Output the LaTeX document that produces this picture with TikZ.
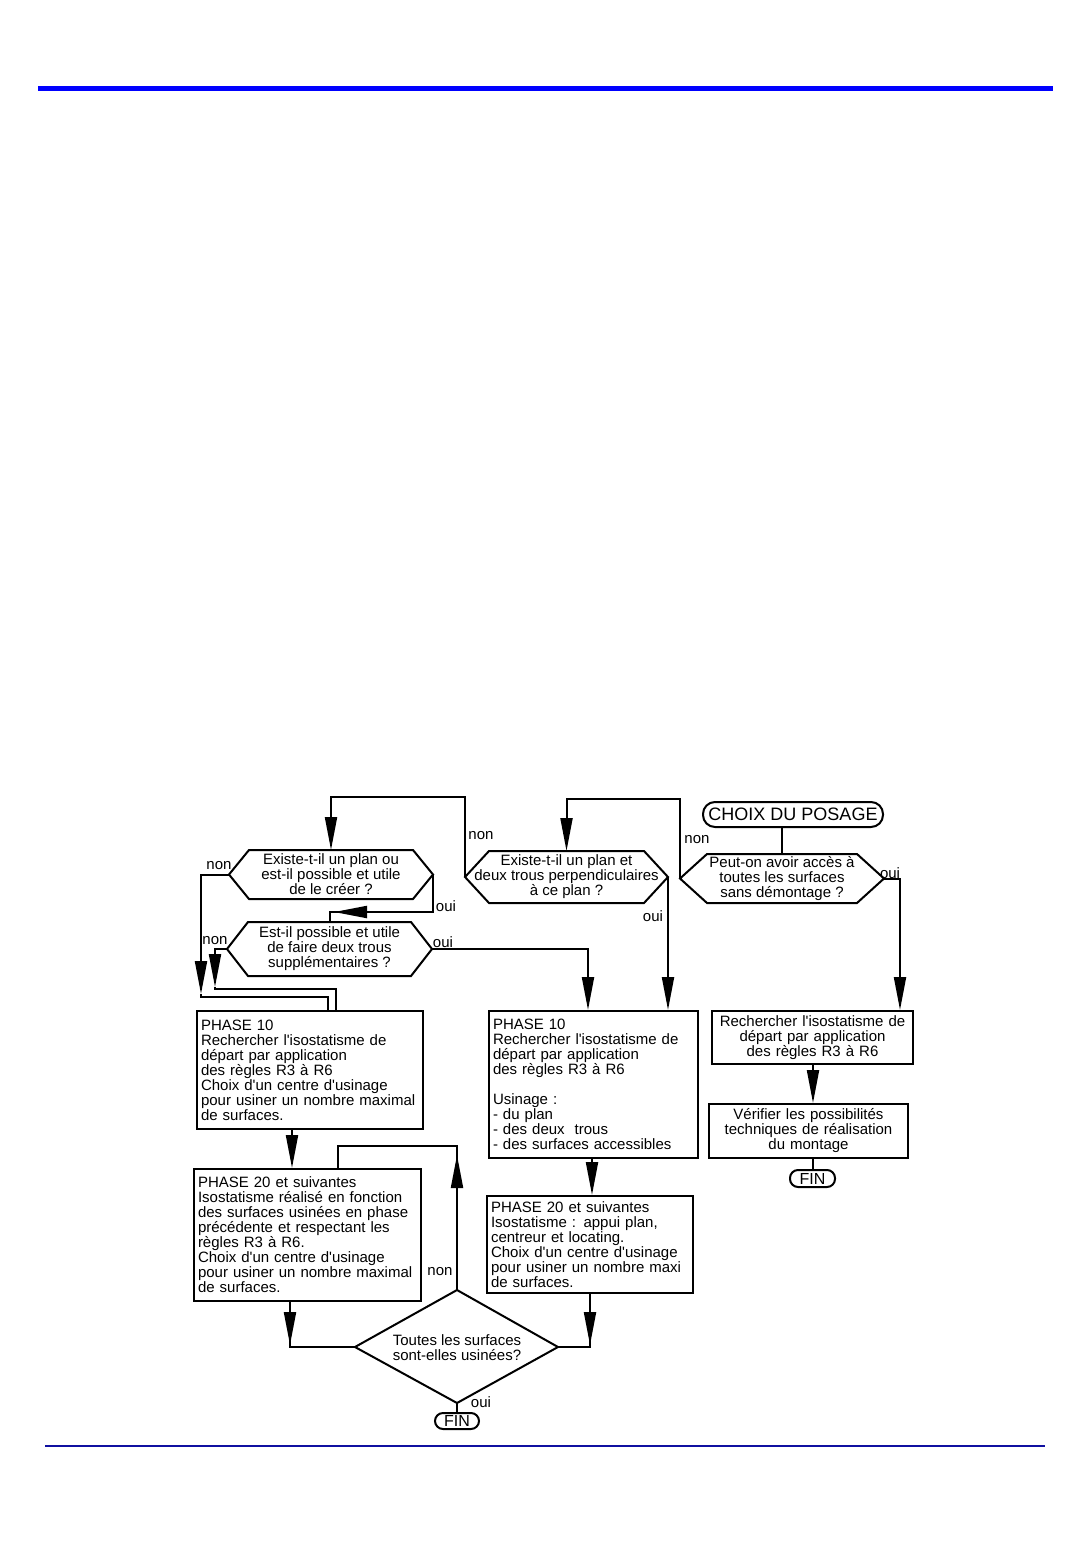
\documentclass[tikz,border=0pt]{standalone}
\usepackage{fontspec}
\setmainfont{Liberation Sans}
\usetikzlibrary{arrows.meta}
\definecolor{topblue}{RGB}{0,0,255}
\definecolor{botblue}{RGB}{16,16,160}
\newcommand{\q}{\textquotesingle}
\newcommand{\hexshape}[7]{%
  \coordinate (#1-w) at (#2,{(#4+#5)/2});
  \coordinate (#1-e) at (#3,{(#4+#5)/2});
  \coordinate (#1-n) at ({(#2+#3)/2},#4);
  \draw[line] (#1-w) -- ({#2+#6},#4) -- ({#3-#6},#4) -- (#1-e) -- ({#3-#6},#5) -- ({#2+#6},#5) -- cycle;
  \node[ctext] (#1) at ({(#2+#3)/2},{(#4+#5)/2}) {#7};
}
\begin{document}
\begin{tikzpicture}[x=1pt,y=-1pt,
  line/.style={line width=2pt, line join=miter},
  arr/.style={line, -{Triangle[length=33pt,width=12pt]}},
  txt/.style={font=\fontsize{15}{15}\selectfont},
  ctext/.style={txt, align=center, inner sep=0pt},
  lbl/.style={txt, inner sep=0pt},
  lbox/.style={draw, line width=2pt, txt, align=left, inner sep=4pt, anchor=north west},
  cbox/.style={draw, line width=2pt, txt, align=center, inner sep=4pt, anchor=north west},
  term/.style={draw, line width=2pt, inner sep=0pt}
]
\useasboundingbox (0,0) rectangle (1091,1544);
% page rules
\draw[topblue, line width=5pt] (38,89) -- (1053,89);
\draw[botblue, line width=2pt] (45,1446) -- (1045,1446);

% start terminal
\node[term, rounded corners=12pt, minimum width=180pt, minimum height=25pt,
      font=\fontsize{18}{18}\selectfont] (choix) at (793,814.5) {CHOIX DU POSAGE};

% decision hexagons
\hexshape{h1}{229}{433}{850}{899}{20}{Existe-t-il un plan ou\\est-il possible et utile\\de le créer ?}
\hexshape{h4}{227}{432}{922}{976}{21}{Est-il possible et utile\\de faire deux trous\\supplémentaires ?}
\hexshape{h2}{465}{668}{851}{903}{24}{Existe-t-il un plan et\\deux trous perpendiculaires\\à ce plan ?}
\hexshape{h3}{680}{884}{854}{903}{27}{Peut-on avoir accès à\\toutes les surfaces\\sans démontage ?}

% boxes
\node[lbox, text width=218pt, minimum height=118pt] (p10a) at (196,1010)
  {PHASE 10\\Rechercher l\q isostatisme de\\départ par application\\des règles R3 à R6\\Choix d\q un centre d\q usinage\\pour usiner un nombre maximal\\de surfaces.};
\node[lbox, text width=219pt, minimum height=132pt] (p20a) at (193,1168)
  {PHASE 20 et suivantes\\Isostatisme réalisé en fonction\\des surfaces usinées en phase\\précédente et respectant les\\règles R3 à R6.\\Choix d\q un centre d\q usinage\\pour usiner un nombre maximal\\de surfaces.};
\node[lbox, text width=201pt, minimum height=147pt] (p10b) at (488,1010)
  {PHASE 10\\Rechercher l\q isostatisme de\\départ par application\\des règles R3 à R6\\\mbox{}\\Usinage :\\- du plan\\- des deux~ trous\\- des surfaces accessibles};
\node[lbox, text width=198pt, minimum height=97pt] (p20b) at (486,1195)
  {PHASE 20 et suivantes\\Isostatisme : appui plan,\\centreur et locating.\\Choix d\q un centre d\q usinage\\pour usiner un nombre maxi\\de surfaces.};
\node[cbox, text width=193pt, minimum height=53pt] (b1) at (711,1010)
  {Rechercher l\q isostatisme de\\départ par application\\des règles R3 à R6};
\node[cbox, text width=191pt, minimum height=54pt] (b2) at (708,1103)
  {Vérifier les possibilités\\techniques de réalisation\\du montage};
\node[term, rounded corners=8pt, minimum width=45pt, minimum height=17pt,
      font=\fontsize{16}{16}\selectfont] (fin2) at (812.5,1178.5) {FIN};

% final decision diamond
\coordinate (dN) at (457,1290);
\coordinate (dE) at (558,1347);
\coordinate (dS) at (457,1403);
\coordinate (dW) at (355,1347);
\draw[line] (dN) -- (dE) -- (dS) -- (dW) -- cycle;
\node[ctext] (dia) at (457,1348) {Toutes les surfaces\\sont-elles usinées?};
\node[term, rounded corners=8pt, minimum width=44pt, minimum height=16pt,
      font=\fontsize{16}{16}\selectfont] (fin1) at (457,1421) {FIN};

% connectors
\draw[line] (h3-n |- choix.south) -- (h3-n);
\draw[arr] (h3-w) -- ++(0,-80) -| (h2-n);
\draw[arr] (h2-w) -- ++(0,-80) -| (h1-n);
\draw[arr] (h2-e) -- (h2-e |- p10b.north);
\draw[arr] (h3-e) -| (900,0 |- b1.north);
\draw[line] (h1-e) |- (h4-n |- 0,912) -- (h4-n);
\draw[arr] (h1-e |- 0,912) -- (334,912);
\draw[arr] (h4-e) -| (588,0 |- p10b.north);
\draw[arr] (h1-w) -| (201,994);
\draw[line] (201,994) |- (328,997) -- (328,0 |- p10a.north);
\draw[arr] (h4-w) -| (215,987);
\draw[line] (215,987) |- (336,989) -- (336,0 |- p10a.north);
\draw[arr] (292,0 |- p10a.south) -- (292,0 |- p20a.north);
\draw[arr] (592,0 |- p10b.south) -- (592,0 |- p20b.north);
\draw[arr] (813,0 |- b1.south) -- (813,0 |- b2.north);
\draw[line] (fin2.north |- b2.south) -- (fin2.north);
\draw[line] (290,0 |- p20a.south) |- (dW);
\draw[arr] (290,0 |- p20a.south) -- (290,1345);
\draw[line] (590,0 |- p20b.south) |- (dE);
\draw[arr] (590,0 |- p20b.south) -- (590,1345);
\draw[line] (dN) |- (338,1146) -- (338,0 |- p20a.north);
\draw[arr] (dN) -- (457,1155);
\draw[line] (dS) -- (fin1.north);

% labels
\node[lbl] (l1) at (219,866) {non};
\node[lbl] (l2) at (215,941) {non};
\node[lbl] (l3) at (446,906) {oui};
\node[lbl] (l4) at (443,942) {oui};
\node[lbl] (l5) at (481,836) {non};
\node[lbl] (l6) at (653,916) {oui};
\node[lbl] (l7) at (697,840) {non};
\node[lbl] (l8) at (890,873) {oui};
\node[lbl] (l9) at (440,1272) {non};
\node[lbl] (l10) at (481,1402) {oui};
\end{tikzpicture}
\end{document}
